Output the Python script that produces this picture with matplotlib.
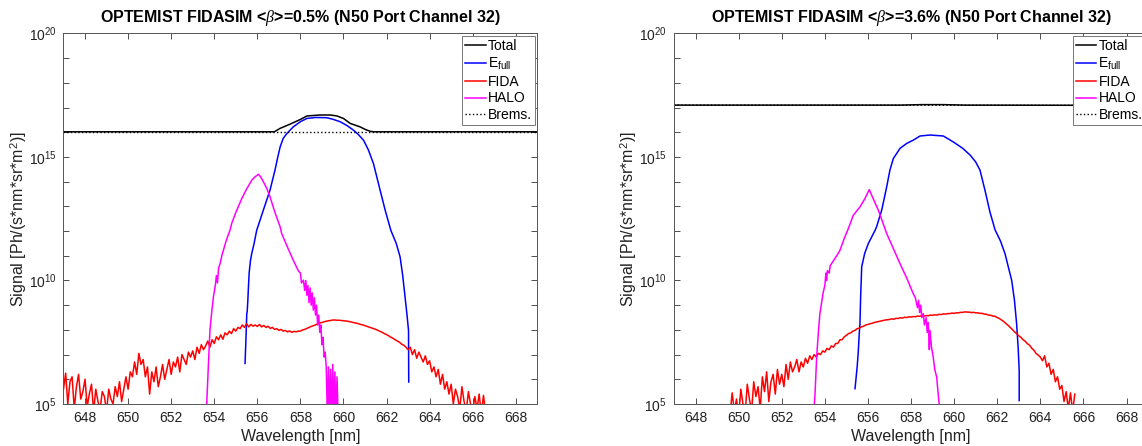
import numpy as np
import matplotlib.pyplot as plt
from matplotlib.ticker import FixedLocator, FuncFormatter

plt.rcParams['font.family'] = ['Liberation Sans', 'DejaVu Sans']
plt.rcParams['mathtext.fontset'] = 'custom'
plt.rcParams['mathtext.rm'] = 'Liberation Sans'
plt.rcParams['mathtext.it'] = 'Liberation Serif:italic'
plt.rcParams['mathtext.bf'] = 'Liberation Sans:bold'

# all signal values below are log10 of Ph/(s*nm*sr*m^2)

# ---------------- <beta> = 0.5 % ----------------
brems_wl_a = [647.0, 669.0]
brems_a = [16.02, 16.02]

total_wl_a = [647.0, 656.79, 657.06, 657.52, 658.0, 658.3, 658.9, 659.4, 659.7,
              660.0, 660.31, 660.77, 661.0, 661.24, 661.4, 669.0]
total_a = [16.02, 16.02, 16.16, 16.33, 16.52, 16.66, 16.70, 16.70, 16.66,
           16.56, 16.36, 16.22, 16.12, 16.04, 16.02, 16.02]

efull_wl_a = [655.43, 655.47, 655.51, 655.53, 655.56, 655.58, 655.62, 655.68, 655.74,
              655.85, 655.97, 656.28, 656.59, 656.82, 656.95, 657.06, 657.2, 657.37,
              657.67, 658.0, 658.3, 658.7, 659.22, 659.5, 659.84, 660.15, 660.46,
              660.7, 660.93, 661.15, 661.39, 661.7, 661.95, 662.2, 662.45, 662.63,
              662.75, 662.86, 662.95, 663.02, 663.03]
efull_a = [6.64, 7.6, 8.66, 8.75, 9.2, 9.6, 10.3, 10.8, 11.09,
           11.5, 12.03, 12.85, 13.66, 14.47, 15.0, 15.41, 15.75, 15.95,
           16.22, 16.43, 16.56, 16.60, 16.59, 16.53, 16.43, 16.28, 16.09,
           15.9, 15.68, 15.3, 14.74, 13.66, 12.8, 12.03, 11.5, 10.95,
           10.2, 9.33, 8.6, 7.98, 5.89]

# FIDA sampled every 0.1 nm from 647.0 to 666.6 nm
fida_start_a, fida_stop_a = 647.0, 666.6
fida_a = [5.6, 6.25, 5.0, 5.9, 6.1, 4.8, 5.7, 6.2, 5.2, 5.5,
          6.0, 4.9, 5.4, 5.8, 4.7, 5.6, 5.1, 4.8, 5.5, 5.3,
          4.7, 5.6, 5.2, 5.0, 5.7, 5.3, 5.9, 5.1, 5.6, 6.1,
          5.6, 6.3, 6.1, 6.7, 6.2, 7.05, 6.6, 6.8, 6.1, 6.5,
          5.4, 6.3, 5.9, 6.5, 5.7, 6.1, 6.6, 6.0, 6.4, 6.8,
          6.2, 6.7, 6.5, 6.9, 6.3, 7.0, 6.8, 6.6, 7.1, 6.9,
          7.15, 6.8, 7.3, 7.05, 7.4, 7.2, 7.35, 7.55, 7.3, 7.6,
          7.45, 7.72, 7.6, 7.8, 7.62, 7.88, 7.8, 7.95, 7.85, 8.05,
          7.95, 8.1, 8.05, 8.2, 8.1, 8.25, 8.12, 8.22, 8.15, 8.2,
          8.14, 8.22, 8.12, 8.18, 8.1, 8.15, 8.06, 8.1, 8.02, 8.05,
          7.98, 8.02, 7.95, 7.98, 7.92, 7.96, 7.9, 7.94, 7.92, 7.95,
          7.95, 8.0, 8.02, 8.06, 8.1, 8.14, 8.17, 8.2, 8.25, 8.28,
          8.3, 8.33, 8.35, 8.37, 8.38, 8.4, 8.4, 8.39, 8.39, 8.38,
          8.37, 8.36, 8.35, 8.33, 8.31, 8.29, 8.27, 8.25, 8.22, 8.2,
          8.17, 8.14, 8.11, 8.08, 8.05, 8.02, 7.98, 7.94, 7.9, 7.85,
          7.81, 7.76, 7.7, 7.66, 7.6, 7.55, 7.5, 7.42, 7.38, 7.3,
          7.2, 7.3, 7.0, 7.2, 6.85, 7.1, 6.9, 6.7, 6.95, 6.6,
          6.75, 6.3, 6.5, 6.1, 6.4, 5.8, 6.2, 5.6, 5.9, 5.4,
          5.8, 5.0, 5.6, 5.3, 4.8, 5.7, 5.1, 4.7, 5.5, 5.0,
          4.7, 5.3, 4.8, 5.4, 4.6, 5.35, 4.6]

halo_wl_a = [653.62, 653.65, 653.73, 653.8, 653.88, 653.96, 654.05, 654.1, 654.15, 654.2,
             654.27, 654.35, 654.45, 654.55, 654.65, 654.73, 654.81, 655.0, 655.28, 655.5,
             655.74, 655.9, 656.05, 656.15, 656.28, 656.45, 656.59, 656.8, 657.06, 657.13,
             657.4, 657.67, 657.9, 658.0, 658.05, 658.14, 658.2, 658.25, 658.3, 658.35,
             658.4, 658.45, 658.5, 658.55, 658.6, 658.65, 658.7, 658.75, 658.8, 658.85,
             658.9, 658.95, 659.0, 659.05, 659.1, 659.15, 659.2, 659.25, 659.3, 659.35,
             659.4, 659.45, 659.5, 659.55, 659.6, 659.65, 659.7, 659.75]
halo_a = [4.8, 5.01, 6.63, 7.98, 8.7, 9.33, 9.8, 10.2, 9.9, 10.5,
          10.68, 11.0, 11.3, 11.6, 11.85, 12.03, 12.31, 12.75, 13.32, 13.7,
          14.06, 14.2, 14.30, 14.2, 14.0, 13.7, 13.39, 12.8, 12.17, 11.9,
          11.35, 10.82, 10.4, 10.3, 9.9, 10.01, 9.6, 10.0, 9.4, 9.8,
          9.1, 9.7, 9.0, 9.5, 8.8, 9.3, 8.6, 9.0, 8.2, 8.6,
          7.9, 8.2, 7.4, 7.7, 6.9, 7.1, 6.5, 4.5, 6.5, 4.5,
          6.4, 4.5, 6.6, 4.5, 6.3, 4.5, 6.1, 4.5]

# ---------------- <beta> = 3.6 % ----------------
brems_wl_b = [647.0, 669.0]
brems_b = [17.10, 17.09]

total_wl_b = [647.0, 657.5, 658.5, 659.5, 660.5, 669.0]
total_b = [17.10, 17.10, 17.12, 17.12, 17.10, 17.09]

efull_wl_b = [655.40, 655.5, 655.55, 655.6, 655.63, 655.66, 655.71, 655.85, 656.02,
              656.33, 656.40, 656.64, 656.87, 657.02, 657.18, 657.49, 657.8, 658.1,
              658.42, 658.88, 659.5, 659.96, 660.4, 660.74, 661.0, 661.2, 661.43,
              661.66, 661.9, 662.15, 662.36, 662.67, 662.8, 662.9, 662.97, 663.02, 663.02]
efull_b = [5.62, 6.5, 7.1, 7.9, 8.25, 9.3, 10.55, 11.1, 11.5,
           12.03, 12.17, 12.85, 13.79, 14.47, 14.94, 15.35, 15.55, 15.68,
           15.85, 15.89, 15.85, 15.61, 15.35, 15.08, 14.8, 14.47, 13.66,
           12.78, 12.05, 11.6, 11.09, 10.01, 9.2, 8.25, 7.3, 6.36, 5.14]

# FIDA sampled every 0.1 nm from 649.6 to 665.6 nm
fida_start_b, fida_stop_b = 649.6, 665.6
fida_b = [4.6, 5.45, 4.7, 5.2,
          4.5, 5.6, 5.0, 4.6, 5.8, 5.2, 4.7, 5.9, 5.3, 5.7,
          4.8, 6.1, 5.5, 6.3, 5.1, 5.9, 6.2, 5.4, 6.4, 5.8,
          6.2, 5.7, 6.6, 6.0, 6.7, 6.3, 6.5, 6.8, 6.3, 6.7,
          6.5, 6.85, 6.65, 6.95, 6.8, 7.0, 6.9, 7.05, 7.0, 7.15,
          7.1, 7.25, 7.2, 7.35, 7.3, 7.45, 7.45, 7.6, 7.6, 7.72,
          7.78, 7.85, 7.88, 7.95, 7.98, 8.05, 8.07, 8.12, 8.15, 8.2,
          8.22, 8.25, 8.27, 8.3, 8.32, 8.34, 8.36, 8.38, 8.4, 8.41,
          8.42, 8.45, 8.43, 8.47, 8.46, 8.49, 8.48, 8.51, 8.5, 8.53,
          8.52, 8.54, 8.53, 8.56, 8.55, 8.57, 8.56, 8.58, 8.57, 8.6,
          8.59, 8.61, 8.6, 8.63, 8.62, 8.65, 8.64, 8.66, 8.66, 8.68,
          8.67, 8.69, 8.69, 8.71, 8.71, 8.73, 8.72, 8.72, 8.7, 8.71,
          8.69, 8.69, 8.67, 8.67, 8.64, 8.63, 8.6, 8.59, 8.56, 8.55,
          8.5, 8.46, 8.4, 8.34, 8.26, 8.19, 8.1, 8.02, 7.92, 7.85,
          7.76, 7.7, 7.6, 7.54, 7.44, 7.38, 7.26, 7.18, 7.05, 6.98,
          6.9, 6.75, 6.95, 6.5, 6.65, 6.2, 6.4, 5.9, 6.1, 5.6,
          5.75, 5.1, 5.5, 4.8, 5.45, 4.7, 5.4]

halo_wl_b = [653.5, 653.55, 653.62, 653.7, 653.77, 653.85, 653.92, 654.0, 654.05, 654.08,
             654.12, 654.2, 654.25, 654.4, 654.55, 654.7, 654.9, 655.09, 655.32, 655.63,
             655.85, 656.06, 656.25, 656.48, 656.79, 656.87, 657.2, 657.49, 657.8, 658.1,
             658.2, 658.3, 658.35, 658.4, 658.45, 658.5, 658.57, 658.62, 658.7, 658.75,
             658.8, 658.85, 658.88, 658.95, 659.03, 659.1, 659.19, 659.25, 659.34]
halo_b = [4.8, 5.5, 6.9, 7.9, 8.66, 9.1, 9.5, 9.8, 10.3, 10.0,
          10.4, 10.3, 10.6, 10.8, 11.0, 11.22, 11.7, 12.1, 12.64, 12.98,
          13.3, 13.68, 13.3, 12.85, 12.1, 11.9, 11.25, 10.68, 10.1, 9.47,
          9.3, 8.9, 9.2, 8.7, 9.0, 8.5, 8.66, 8.2, 8.5, 7.9,
          8.3, 7.2, 7.98, 7.3, 6.9, 6.4, 6.09, 5.5, 4.7]

AX_COLOR = '#333333'


def decade_label(v, pos):
    e = int(round(np.log10(v)))
    return r'$\mathdefault{10^{%d}}$' % e if e % 5 == 0 else ''


def draw_panel(ax, beta, total, efull, fida, halo, brems):
    ax.semilogy(total[0], 10.0 ** np.asarray(total[1]), color='k', lw=1.1, label='Total')
    ax.semilogy(efull[0], 10.0 ** np.asarray(efull[1]), color='#0000ff', lw=1.1,
                label=r'E$_{\mathdefault{full}}$')
    ax.semilogy(fida[0], 10.0 ** np.asarray(fida[1]), color='#ff0000', lw=1.1, label='FIDA')
    ax.semilogy(halo[0], 10.0 ** np.asarray(halo[1]), color='#ff00ff', lw=1.1, label='HALO')
    ax.semilogy(brems[0], 10.0 ** np.asarray(brems[1]), color='k', lw=1.0, ls=':',
                label='Brems.')

    ax.set_xlim(647, 669)
    ax.set_ylim(1e5, 1e20)
    ax.xaxis.set_major_locator(FixedLocator(np.arange(648, 669, 2)))
    ax.yaxis.set_major_locator(FixedLocator(10.0 ** np.arange(5, 21)))
    ax.yaxis.set_major_formatter(FuncFormatter(decade_label))
    ax.yaxis.set_minor_locator(FixedLocator([]))
    ax.tick_params(which='both', direction='in', top=True, right=True, length=4,
                   width=0.6, color=AX_COLOR, labelcolor='#222222', labelsize=10, pad=5)
    for sp in ax.spines.values():
        sp.set_color('#555555')
        sp.set_linewidth(0.7)

    ax.set_xlabel('Wavelength [nm]', fontsize=11.5, color='#222222', labelpad=3)
    ax.set_ylabel(r'Signal [Ph/(s*nm*sr*m$^{\mathdefault{2}}$)]', fontsize=11.5,
                  color='#222222', labelpad=0)
    ax.set_title(r'OPTEMIST FIDASIM <$\beta$>=%s%% (N50 Port Channel 32)' % beta,
                 fontsize=11.5, fontweight='bold', pad=8)

    leg = ax.legend(loc='upper right', fontsize=10, frameon=True, fancybox=False,
                    framealpha=1, edgecolor='#777777', borderaxespad=0.2,
                    handlelength=1.5, handletextpad=0.15, labelspacing=0.2,
                    borderpad=0.2)
    leg.get_frame().set_linewidth(0.7)


fig = plt.figure(figsize=(11.42, 4.46), dpi=100)
ax_a = fig.add_axes([0.0556, 0.0942, 0.4149, 0.8307])
ax_b = fig.add_axes([0.5902, 0.0942, 0.4151, 0.8307])

draw_panel(ax_a, '0.5',
           (total_wl_a, total_a),
           (efull_wl_a, efull_a),
           (np.linspace(fida_start_a, fida_stop_a, len(fida_a)), fida_a),
           (halo_wl_a, halo_a),
           (brems_wl_a, brems_a))
draw_panel(ax_b, '3.6',
           (total_wl_b, total_b),
           (efull_wl_b, efull_b),
           (np.linspace(fida_start_b, fida_stop_b, len(fida_b)), fida_b),
           (halo_wl_b, halo_b),
           (brems_wl_b, brems_b))

fig.savefig('out.png', dpi=100)
